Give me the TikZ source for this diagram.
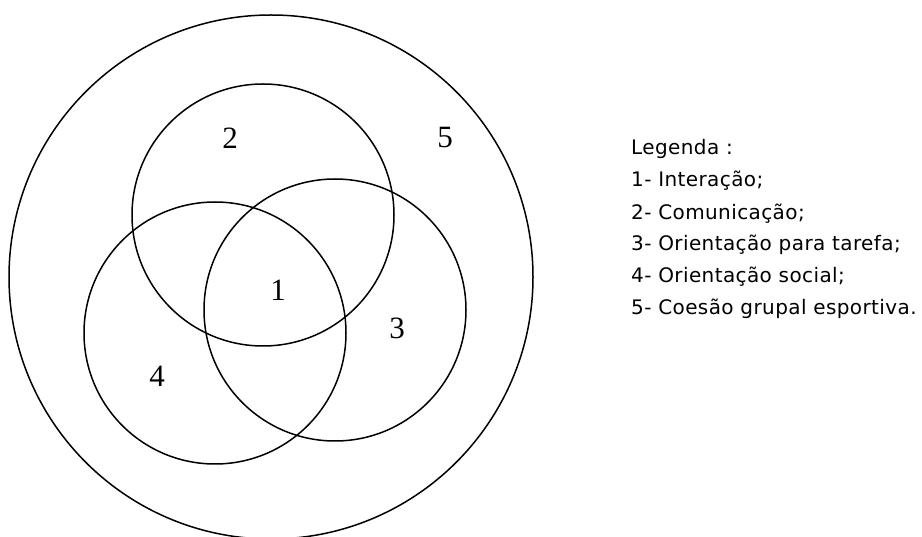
\documentclass[tikz,border=0pt]{standalone}
\usepackage{fontspec}
\setmainfont{Liberation Serif}
\newfontfamily\legendfont[LetterSpace=2]{DejaVu Sans}
\usepackage{tikz}
\usetikzlibrary{positioning}
\definecolor{ink}{RGB}{0,0,0}
\tikzset{
  ring/.style={line width=1.5pt,draw=ink},
  region/.style={font=\fontsize{31}{31}\selectfont,text=ink,inner sep=0pt},
  legend/.style={font=\legendfont\fontsize{20}{20}\selectfont,text=ink,anchor=base west,inner sep=0pt}
}

\begin{document}
\begin{tikzpicture}[x=1pt,y=-1pt]
  \useasboundingbox (0,0) rectangle (922,537);
  % whole set and the three inner sets
  \draw[ring] (271,277) circle[radius=262];
  \draw[ring] (263,215) circle[radius=131];
  \draw[ring] (335,310) circle[radius=131];
  \draw[ring] (215,333) circle[radius=131];
  % region numbers
  \node[region] (r1) at (278,290) {1};
  \node[region] (r2) at (230,138) {2};
  \node[region] (r3) at (397,328) {3};
  \node[region] (r4) at (157,376) {4};
  \node[region] (r5) at (445,138) {5};
  % legend
  \node[legend] (leg) at (631,155) {Legenda :};
  \node[legend] (l1) at (631,187) {1- Interação;};
  \node[legend] (l2) at (631,220) {2- Comunicação;};
  \node[legend] (l3) at (631,251) {3- Orientação para tarefa;};
  \node[legend] (l4) at (631,283) {4- Orientação social;};
  \node[legend] (l5) at (631,315) {5- Coesão grupal esportiva.};
\end{tikzpicture}
\end{document}
